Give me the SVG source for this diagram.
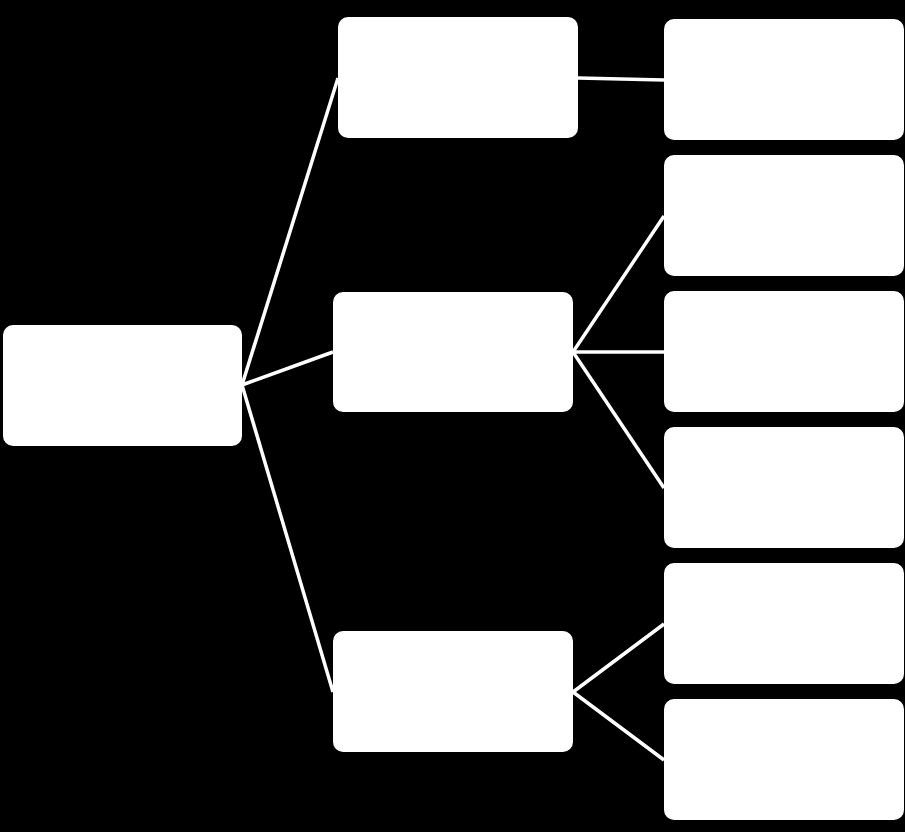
<svg xmlns="http://www.w3.org/2000/svg" width="905" height="832" viewBox="0 0 905 832">
<style>
.n{fill:#fff}
.c line{stroke:#fff;stroke-width:3.5}
</style>
<rect width="905" height="832" fill="#000"/>
<g class="c" id="connectors">
<line x1="242" y1="385" x2="338" y2="78"/>
<line x1="242" y1="385" x2="333" y2="352"/>
<line x1="242" y1="385" x2="333" y2="692"/>
<line x1="578" y1="78" x2="664" y2="80"/>
<line x1="573" y1="352" x2="664" y2="216"/>
<line x1="573" y1="352" x2="664" y2="352"/>
<line x1="573" y1="352" x2="664" y2="488"/>
<line x1="573" y1="692" x2="664" y2="624"/>
<line x1="573" y1="692" x2="664" y2="760"/>
</g>
<g id="root"><rect class="n" x="3" y="325" width="239" height="121" rx="10"/></g>
<g id="a"><rect class="n" x="338" y="17" width="240" height="121" rx="10"/></g>
<g id="b"><rect class="n" x="333" y="292" width="240" height="120" rx="10"/></g>
<g id="c"><rect class="n" x="333" y="631" width="240" height="121" rx="10"/></g>
<g id="l1"><rect class="n" x="664" y="19" width="240" height="121" rx="10"/></g>
<g id="l2"><rect class="n" x="664" y="155" width="240" height="121" rx="10"/></g>
<g id="l3"><rect class="n" x="664" y="291" width="240" height="121" rx="10"/></g>
<g id="l4"><rect class="n" x="664" y="427" width="240" height="121" rx="10"/></g>
<g id="l5"><rect class="n" x="664" y="563" width="240" height="121" rx="10"/></g>
<g id="l6"><rect class="n" x="664" y="699" width="240" height="121" rx="10"/></g>
</svg>
